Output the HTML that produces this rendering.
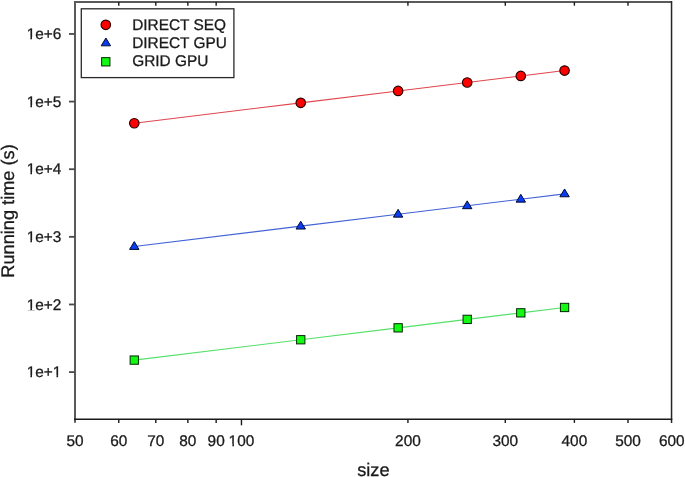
<!DOCTYPE html><html><head><meta charset="utf-8"><style>html,body{margin:0;padding:0;background:#fff;}svg{display:block;}text{font-family:"Liberation Sans",Arial,sans-serif;fill:#1a1a1a;stroke:#1a1a1a;stroke-width:0.3px;text-rendering:geometricPrecision;}</style></head><body>
<svg width="685" height="477" viewBox="0 0 685 477">
<rect width="685" height="477" fill="#fff"/>
<path d="M75 1V419.3" fill="none" stroke="#5a5a5a" stroke-width="2"/>
<path d="M74 2H671.55" fill="none" stroke="#5a5a5a" stroke-width="2"/>
<path d="M671.55 1V422.90000000000003" fill="none" stroke="#262626" stroke-width="1.5"/>
<path d="M75 419.3V422.7" fill="none" stroke="#5a5a5a" stroke-width="2"/>
<path d="M74 419.3H672.25" fill="none" stroke="#1a1a1a" stroke-width="1.4"/>
<path d="M118.78 419.3v3.6" stroke="#1a1a1a" stroke-width="1.4"/>
<path d="M118.78 2v3.7" stroke="#1a1a1a" stroke-width="1.4"/>
<path d="M155.80 419.3v3.6" stroke="#1a1a1a" stroke-width="1.4"/>
<path d="M155.80 2v3.7" stroke="#1a1a1a" stroke-width="1.4"/>
<path d="M187.87 419.3v3.6" stroke="#1a1a1a" stroke-width="1.4"/>
<path d="M187.87 2v3.7" stroke="#1a1a1a" stroke-width="1.4"/>
<path d="M216.16 419.3v3.6" stroke="#1a1a1a" stroke-width="1.4"/>
<path d="M216.16 2v3.7" stroke="#1a1a1a" stroke-width="1.4"/>
<path d="M241.46 419.3v6.0" stroke="#1a1a1a" stroke-width="1.4"/>
<path d="M407.92 419.3v3.6" stroke="#1a1a1a" stroke-width="1.4"/>
<path d="M407.92 2v3.7" stroke="#1a1a1a" stroke-width="1.4"/>
<path d="M505.29 419.3v3.6" stroke="#1a1a1a" stroke-width="1.4"/>
<path d="M505.29 2v3.7" stroke="#1a1a1a" stroke-width="1.4"/>
<path d="M574.38 419.3v3.6" stroke="#1a1a1a" stroke-width="1.4"/>
<path d="M574.38 2v3.7" stroke="#1a1a1a" stroke-width="1.4"/>
<path d="M627.97 419.3v3.6" stroke="#1a1a1a" stroke-width="1.4"/>
<path d="M627.97 2v3.7" stroke="#1a1a1a" stroke-width="1.4"/>
<text transform="translate(75.00 446.40) scale(1 1)" font-size="15.4" text-anchor="middle">50</text>
<text transform="translate(118.78 446.40) scale(1 1)" font-size="15.4" text-anchor="middle">60</text>
<text transform="translate(155.80 446.40) scale(1 1)" font-size="15.4" text-anchor="middle">70</text>
<text transform="translate(187.87 446.40) scale(1 1)" font-size="15.4" text-anchor="middle">80</text>
<text transform="translate(216.16 446.40) scale(1 1)" font-size="15.4" text-anchor="middle">90</text>
<text transform="translate(241.46 446.40) scale(1 1)" font-size="15.4" text-anchor="middle">100</text>
<text transform="translate(407.92 446.40) scale(1 1)" font-size="15.4" text-anchor="middle">200</text>
<text transform="translate(505.29 446.40) scale(1 1)" font-size="15.4" text-anchor="middle">300</text>
<text transform="translate(574.38 446.40) scale(1 1)" font-size="15.4" text-anchor="middle">400</text>
<text transform="translate(627.97 446.40) scale(1 1)" font-size="15.4" text-anchor="middle">500</text>
<text transform="translate(671.75 446.40) scale(1 1)" font-size="15.4" text-anchor="middle">600</text>
<path d="M69 372.10H75" stroke="#4a4a4a" stroke-width="1.8"/>
<text transform="translate(61.30 377.20) scale(1 1)" font-size="15.4" text-anchor="end">1e+1</text>
<path d="M69 304.47H75" stroke="#4a4a4a" stroke-width="1.8"/>
<text transform="translate(61.30 309.57) scale(1 1)" font-size="15.4" text-anchor="end">1e+2</text>
<path d="M69 236.84H75" stroke="#4a4a4a" stroke-width="1.8"/>
<text transform="translate(61.30 241.94) scale(1 1)" font-size="15.4" text-anchor="end">1e+3</text>
<path d="M69 169.21H75" stroke="#4a4a4a" stroke-width="1.8"/>
<text transform="translate(61.30 174.31) scale(1 1)" font-size="15.4" text-anchor="end">1e+4</text>
<path d="M69 101.58H75" stroke="#4a4a4a" stroke-width="1.8"/>
<text transform="translate(61.30 106.68) scale(1 1)" font-size="15.4" text-anchor="end">1e+5</text>
<path d="M69 33.95H75" stroke="#4a4a4a" stroke-width="1.8"/>
<text transform="translate(61.30 39.05) scale(1 1)" font-size="15.4" text-anchor="end">1e+6</text>
<text x="373.4" y="475.6" font-size="18.2" text-anchor="middle">size</text>
<text transform="translate(13.5 211) rotate(-90)" x="0" y="0" font-size="18.2" text-anchor="middle">Running time (s)</text>
<path d="M134.28 123.20 L300.74 102.84 L398.12 90.93 L467.20 82.48 L520.79 75.93 L564.57 70.57" fill="none" stroke="#e0464e" stroke-width="1.1"/>
<path d="M134.28 246.50 L300.74 226.14 L398.12 214.23 L467.20 205.78 L520.79 199.23 L564.57 193.87" fill="none" stroke="#4262d6" stroke-width="1.1"/>
<path d="M134.28 360.10 L300.74 339.74 L398.12 327.83 L467.20 319.38 L520.79 312.83 L564.57 307.47" fill="none" stroke="#55e06a" stroke-width="1.1"/>
<circle cx="134.28" cy="123.20" r="4.75" fill="#ff0000" stroke="#2a0000" stroke-width="1.15"/>
<circle cx="300.74" cy="102.84" r="4.75" fill="#ff0000" stroke="#2a0000" stroke-width="1.15"/>
<circle cx="398.12" cy="90.93" r="4.75" fill="#ff0000" stroke="#2a0000" stroke-width="1.15"/>
<circle cx="467.20" cy="82.48" r="4.75" fill="#ff0000" stroke="#2a0000" stroke-width="1.15"/>
<circle cx="520.79" cy="75.93" r="4.75" fill="#ff0000" stroke="#2a0000" stroke-width="1.15"/>
<circle cx="564.57" cy="70.57" r="4.75" fill="#ff0000" stroke="#2a0000" stroke-width="1.15"/>
<path d="M134.28 241.60L138.98 249.40L129.58 249.40Z" fill="#0a3cf0" stroke="#000a30" stroke-width="1.0" stroke-linejoin="miter"/>
<path d="M300.74 221.24L305.44 229.04L296.04 229.04Z" fill="#0a3cf0" stroke="#000a30" stroke-width="1.0" stroke-linejoin="miter"/>
<path d="M398.12 209.33L402.82 217.13L393.42 217.13Z" fill="#0a3cf0" stroke="#000a30" stroke-width="1.0" stroke-linejoin="miter"/>
<path d="M467.20 200.88L471.90 208.68L462.50 208.68Z" fill="#0a3cf0" stroke="#000a30" stroke-width="1.0" stroke-linejoin="miter"/>
<path d="M520.79 194.33L525.49 202.13L516.09 202.13Z" fill="#0a3cf0" stroke="#000a30" stroke-width="1.0" stroke-linejoin="miter"/>
<path d="M564.57 188.97L569.27 196.77L559.87 196.77Z" fill="#0a3cf0" stroke="#000a30" stroke-width="1.0" stroke-linejoin="miter"/>
<rect x="130.13" y="355.95" width="8.3" height="8.3" fill="#12fa12" stroke="#002800" stroke-width="1"/>
<rect x="296.59" y="335.59" width="8.3" height="8.3" fill="#12fa12" stroke="#002800" stroke-width="1"/>
<rect x="393.97" y="323.68" width="8.3" height="8.3" fill="#12fa12" stroke="#002800" stroke-width="1"/>
<rect x="463.05" y="315.23" width="8.3" height="8.3" fill="#12fa12" stroke="#002800" stroke-width="1"/>
<rect x="516.64" y="308.68" width="8.3" height="8.3" fill="#12fa12" stroke="#002800" stroke-width="1"/>
<rect x="560.42" y="303.32" width="8.3" height="8.3" fill="#12fa12" stroke="#002800" stroke-width="1"/>
<rect x="81.3" y="8.8" width="152.6" height="68.8" fill="#fff" stroke="#2a2a2a" stroke-width="1.3"/>
<circle cx="105.80" cy="24.80" r="4.75" fill="#ff0000" stroke="#2a0000" stroke-width="1.15"/>
<path d="M105.90 38.00L110.60 45.80L101.20 45.80Z" fill="#0a3cf0" stroke="#000a30" stroke-width="1.0" stroke-linejoin="miter"/>
<rect x="101.65" y="57.65" width="8.3" height="8.3" fill="#12fa12" stroke="#002800" stroke-width="1"/>
<text transform="translate(132.20 29.60) scale(1 1)" font-size="15.4" text-anchor="start">DIRECT SEQ</text>
<text transform="translate(132.20 47.90) scale(1 1)" font-size="15.4" text-anchor="start">DIRECT GPU</text>
<text transform="translate(132.20 66.40) scale(1 1)" font-size="15.4" text-anchor="start">GRID GPU</text>
<rect x="229.00" y="444.00" width="3.36" height="3.00" fill="#fff"/>
<rect x="233.97" y="444.00" width="3.03" height="3.00" fill="#fff"/>
<rect x="27.00" y="375.00" width="3.36" height="3.00" fill="#fff"/>
<rect x="31.97" y="375.00" width="3.03" height="3.00" fill="#fff"/>
<rect x="53.00" y="375.00" width="3.49" height="3.00" fill="#fff"/>
<rect x="58.09" y="375.00" width="2.91" height="3.00" fill="#fff"/>
<rect x="27.00" y="308.00" width="3.36" height="2.00" fill="#fff"/>
<rect x="31.97" y="308.00" width="3.03" height="2.00" fill="#fff"/>
<rect x="27.00" y="240.00" width="3.36" height="3.00" fill="#fff"/>
<rect x="31.97" y="240.00" width="3.03" height="3.00" fill="#fff"/>
<rect x="27.00" y="172.00" width="3.36" height="3.00" fill="#fff"/>
<rect x="31.97" y="172.00" width="3.03" height="3.00" fill="#fff"/>
<rect x="27.00" y="105.00" width="3.36" height="3.00" fill="#fff"/>
<rect x="31.97" y="105.00" width="3.03" height="3.00" fill="#fff"/>
<rect x="27.00" y="37.00" width="3.36" height="3.00" fill="#fff"/>
<rect x="31.97" y="37.00" width="3.03" height="3.00" fill="#fff"/>
</svg></body></html>
